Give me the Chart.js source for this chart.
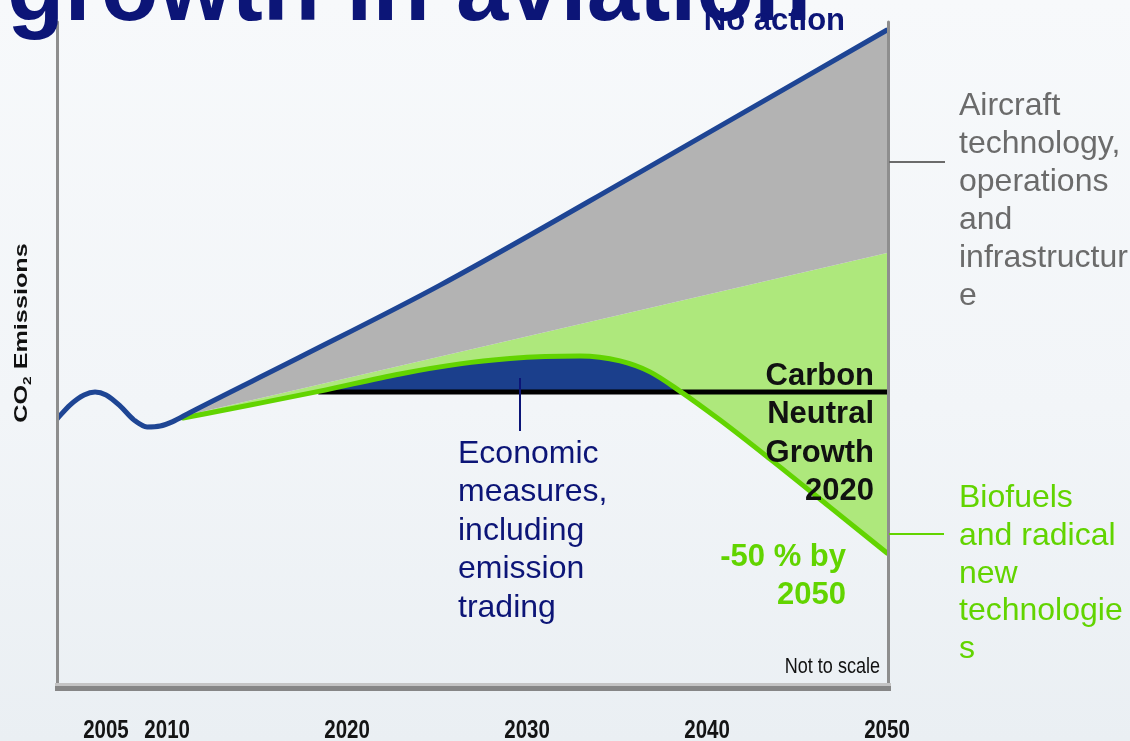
<!DOCTYPE html>
<html>
<head>
<meta charset="utf-8">
<script src="https://cdn.jsdelivr.net/npm/chart.js@4/dist/chart.umd.min.js"></script>
<style>
  html, body { margin: 0; padding: 0; }
  body {
    width: 1130px; height: 741px; overflow: hidden;
    background: linear-gradient(180deg, #f7f9fb 0%, #f2f5f8 55%, #eaeff3 100%);
  }
  canvas { display: block; }
</style>
</head>
<body>
<canvas id="chart" width="1130" height="741"></canvas>
<script>
// Year ticks shown under the axis
const tickYears = [2005, 2010, 2020, 2030, 2040, 2050];

// History and the "No action" projection
const noActionYears  = [2001.0, 2002.06, 2003.21, 2004.11, 2005.01, 2006.15, 2007.30, 2008.36, 2009.43, 2010.28, 2011.28, 2017.39, 2025.17, 2036.28, 2050];
const noActionValues = [90.9, 95.6, 99.0, 100.0, 99.0, 95.3, 90.5, 88.2, 88.5, 89.9, 93.1, 111.8, 136.1, 174.3, 222.3];

// Lower edge of the aircraft technology / operations / infrastructure wedge
const technologyYears  = [2010.9, 2050];
const technologyValues = [91.9, 147.0];

// Net emissions with biofuels and radical new technologies
const netYears  = [2010.88, 2014.61, 2018.49, 2022.94, 2026.27, 2029.05, 2031.0, 2032.94, 2035.16, 2036.83, 2038.49, 2040.72, 2043.49, 2046.83, 2050];
const netValues = [91.2, 95.6, 100.3, 106.1, 109.5, 111.3, 112.0, 112.2, 110.5, 106.8, 100.3, 90.5, 77.4, 61.1, 45.6];

// Carbon neutral growth cap from 2020
const cngYears  = [2018.4, 2050];
const cngValues = [100, 100];

const points = (xs, ys) => xs.map((x, i) => ({ x, y: ys[i] }));

// Year axis with a compressed stretch before the break year
class SplitYearScale extends Chart.LinearScale {
  warp(v) {
    const b = this.options.breakYear, k = this.options.earlyRate;
    return v >= b ? v : b - (b - v) * k;
  }
  unwarp(w) {
    const b = this.options.breakYear, k = this.options.earlyRate;
    return w >= b ? w : b - (b - w) / k;
  }
  getPixelForValue(v) {
    if (v === null || v === undefined || isNaN(v)) return NaN;
    const a = this.warp(this.min), z = this.warp(this.max);
    return this.getPixelForDecimal((this.warp(v) - a) / (z - a));
  }
  getValueForPixel(p) {
    const a = this.warp(this.min), z = this.warp(this.max);
    return this.unwarp(a + this.getDecimalForPixel(p) * (z - a));
  }
}
SplitYearScale.id = 'splitYear';
SplitYearScale.defaults = {};
Chart.register(SplitYearScale);

const SANS = "'Liberation Sans', Arial, sans-serif";

const NAVY = '#0c1577';
const LINE_BLUE = '#1e4594';
const GREEN = '#62d400';

function txt(ctx, s, x, y, font, color, align) {
  ctx.font = font;
  ctx.fillStyle = color;
  ctx.textAlign = align || 'left';
  ctx.textBaseline = 'alphabetic';
  ctx.fillText(s, x, y);
}

// condensed text: horizontal squeeze around the anchor point
function narrowTxt(ctx, s, x, y, font, color, align, squeeze) {
  ctx.save();
  ctx.translate(x, y);
  ctx.scale(squeeze, 1);
  txt(ctx, s, 0, 0, font, color, align);
  ctx.restore();
}

const decor = {
  id: 'decor',
  afterDatasetsDraw(chart) {
    const ctx = chart.ctx, a = chart.chartArea;
    ctx.save();
    // plot frame
    ctx.lineCap = 'round';
    ctx.strokeStyle = '#8e8e8e';
    ctx.lineWidth = 3;
    ctx.beginPath();
    ctx.moveTo(a.left + 0.5, a.top);
    ctx.lineTo(a.left + 0.5, a.bottom);
    ctx.moveTo(a.right + 1.5, a.top);
    ctx.lineTo(a.right + 1.5, a.bottom);
    ctx.stroke();
    ctx.fillStyle = '#c4c4c4';
    ctx.fillRect(a.left - 2, a.bottom - 5, a.right - a.left + 6, 3);
    ctx.fillStyle = '#868686';
    ctx.fillRect(a.left - 2, a.bottom - 2, a.right - a.left + 6, 5);
    ctx.restore();
  },
  afterDraw(chart) {
    const ctx = chart.ctx, a = chart.chartArea;
    const xs = chart.scales.x;
    ctx.save();

    // year labels at the axis tick positions, in a condensed face
    xs.ticks.forEach((t, i) => {
      narrowTxt(ctx, String(t.value), xs.getPixelForTick(i), 738, `bold 25px ${SANS}`, '#141414', 'center', 0.82);
    });

    // heading
    txt(ctx, 'growth in aviation', 7, 20, `bold 94px ${SANS}`, NAVY);

    // scenario label
    txt(ctx, 'No action', 845, 30, `bold 31px ${SANS}`, NAVY, 'right');

    // carbon neutral growth label
    ['Carbon', 'Neutral', 'Growth', '2020'].forEach((s, i) =>
      txt(ctx, s, 874, 385 + i * 38.3, `bold 31px ${SANS}`, '#111111', 'right'));

    // 2050 target label
    txt(ctx, '-50 % by', 846, 566, `bold 31px ${SANS}`, GREEN, 'right');
    txt(ctx, '2050', 846, 604, `bold 31px ${SANS}`, GREEN, 'right');

    // economic measures callout
    ctx.strokeStyle = NAVY;
    ctx.lineWidth = 2;
    ctx.beginPath();
    const lx = Math.round(xs.getPixelForValue(2029.6));
    ctx.moveTo(lx, 378);
    ctx.lineTo(lx, 431);
    ctx.stroke();
    ['Economic', 'measures,', 'including', 'emission', 'trading'].forEach((s, i) =>
      txt(ctx, s, 458, 463 + i * 38.4, `32px ${SANS}`, NAVY));

    // technology wedge callout
    ctx.strokeStyle = '#6b6b6b';
    ctx.beginPath();
    ctx.moveTo(a.right + 2, 162);
    ctx.lineTo(945, 162);
    ctx.stroke();
    ['Aircraft', 'technology,', 'operations', 'and', 'infrastructur', 'e'].forEach((s, i) =>
      txt(ctx, s, 959, 115 + i * 38, `32px ${SANS}`, '#6b6b6b'));

    // biofuels callout
    ctx.strokeStyle = GREEN;
    ctx.beginPath();
    ctx.moveTo(a.right + 2, 534);
    ctx.lineTo(944, 534);
    ctx.stroke();
    ['Biofuels', 'and radical', 'new', 'technologie', 's'].forEach((s, i) =>
      txt(ctx, s, 959, 507 + i * 37.8, `32px ${SANS}`, GREEN));

    // scale note
    narrowTxt(ctx, 'Not to scale', 880, 673, `22px ${SANS}`, '#111111', 'right', 0.82);

    // vertical axis title with subscript
    ctx.translate(27, 333);
    ctx.rotate(-Math.PI / 2);
    ctx.scale(1.4, 1);
    ctx.font = `bold 18px ${SANS}`;
    const w1 = ctx.measureText('CO').width;
    ctx.font = `bold 11px ${SANS}`;
    const w2 = ctx.measureText('2').width;
    ctx.font = `bold 18px ${SANS}`;
    const w3 = ctx.measureText(' Emissions').width;
    const start = -(w1 + w2 + w3) / 2;
    txt(ctx, 'CO', start, 0, `bold 18px ${SANS}`, '#111111');
    txt(ctx, '2', start + w1, 4, `bold 11px ${SANS}`, '#111111');
    txt(ctx, ' Emissions', start + w1 + w2, 0, `bold 18px ${SANS}`, '#111111');

    ctx.restore();
  }
};

new Chart(document.getElementById('chart'), {
  type: 'line',
  data: {
    datasets: [
      {
        label: 'No action',
        data: points(noActionYears, noActionValues),
        borderColor: LINE_BLUE,
        borderWidth: 5,
        borderCapStyle: 'round',
        backgroundColor: '#b3b3b3',
        fill: '+1',
        cubicInterpolationMode: 'monotone',
        pointRadius: 0,
        order: 0
      },
      {
        label: 'Aircraft technology, operations and infrastructure',
        data: points(technologyYears, technologyValues),
        borderWidth: 0,
        borderColor: 'rgba(0,0,0,0)',
        backgroundColor: '#aee87c',
        fill: '+1',
        pointRadius: 0,
        order: 3
      },
      {
        label: 'Biofuels and radical new technologies',
        data: points(netYears, netValues),
        borderColor: GREEN,
        borderWidth: 5,
        borderCapStyle: 'round',
        fill: { target: { value: cngValues[0] }, above: '#1b3f8c', below: 'rgba(0,0,0,0)' },
        cubicInterpolationMode: 'monotone',
        pointRadius: 0,
        order: 1
      },
      {
        label: 'Carbon Neutral Growth 2020',
        data: points(cngYears, cngValues),
        borderColor: '#000000',
        borderWidth: 5,
        borderCapStyle: 'butt',
        fill: false,
        pointRadius: 0,
        order: 2
      }
    ]
  },
  options: {
    responsive: false,
    devicePixelRatio: 1,
    animation: false,
    events: [],
    layout: { padding: { left: 57, right: 243, top: 22, bottom: 0 } },
    plugins: {
      legend: { display: false },
      tooltip: { enabled: false },
      title: { display: false },
      filler: { drawTime: 'beforeDatasetsDraw' }
    },
    scales: {
      x: {
        type: 'splitYear',
        min: 2001,
        max: 2050,
        breakYear: 2010,
        earlyRate: 0.68,
        grid: { display: false, drawTicks: false },
        border: { display: false },
        afterBuildTicks: (s) => { s.ticks = tickYears.map(v => ({ value: v })); },
        afterFit: (s) => { s.height = 53; },
        ticks: { display: false, autoSkip: false, maxRotation: 0 }
      },
      y: {
        display: false,
        min: 0,
        max: 225
      }
    }
  },
  plugins: [decor]
});
</script>
</body>
</html>
